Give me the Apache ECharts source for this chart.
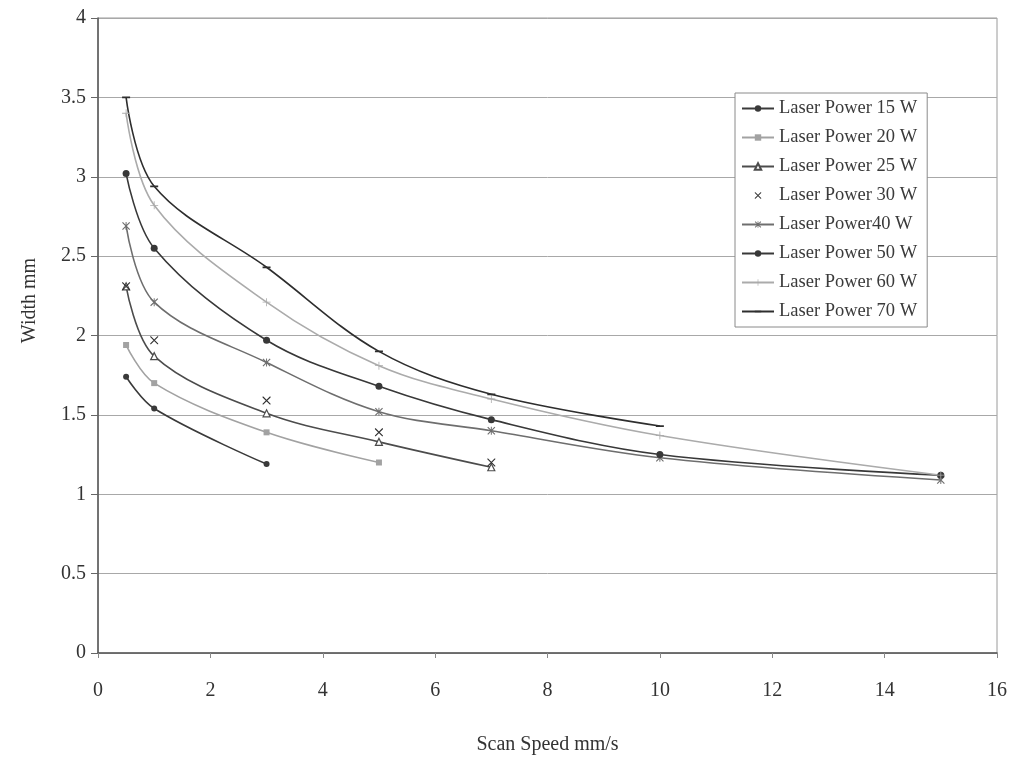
<!DOCTYPE html>
<html>
<head>
<meta charset="utf-8">
<script src="https://cdn.jsdelivr.net/npm/echarts@6/dist/echarts.min.js"></script>
<style>
  html, body { margin: 0; padding: 0; background: #fff; }
  #chart { width: 1018px; height: 761px; }
</style>
</head>
<body>
<div id="chart"></div>
<script>
// Scan speeds (mm/s) shared by every laser power series
const speeds = [0.5, 1, 3, 5, 7, 10, 15];

// Track width (mm) per laser power; each list follows speeds from the start
const w15 = [1.74, 1.54, 1.19];
const w20 = [1.94, 1.70, 1.39, 1.20];
const w25 = [2.31, 1.87, 1.51, 1.33, 1.17];
const w30 = [2.31, 1.97, 1.59, 1.39, 1.20];
const w40 = [2.69, 2.21, 1.83, 1.52, 1.40, 1.23, 1.09];
const w50 = [3.02, 2.55, 1.97, 1.68, 1.47, 1.25, 1.12];
const w60 = [3.40, 2.82, 2.21, 1.81, 1.60, 1.37, 1.12];
const w70 = [3.50, 2.94, 2.43, 1.90, 1.63, 1.43];

const names = [
  'Laser Power 15 W', 'Laser Power 20 W', 'Laser Power 25 W', 'Laser Power 30 W',
  'Laser Power40 W', 'Laser Power 50 W', 'Laser Power 60 W', 'Laser Power 70 W'
];

const xTicks = [0, 2, 4, 6, 8, 10, 12, 14, 16];
const yTicks = [0, 0.5, 1, 1.5, 2, 2.5, 3, 3.5, 4];

function pairs(vals) {
  return vals.map((v, i) => [speeds[i], v]);
}

// Marker shapes; tiny corner sub-paths keep each shape inside a square box
const crossPath = 'path://M0,0 L1,0 L10,9 L10,10 L9,10 L0,1 Z M10,0 L10,1 L1,10 L0,10 L0,9 L9,0 Z';
const starPath = 'path://M1,0 L5,4 L9,0 L10,1 L6,5 L10,9 L9,10 L5,6 L1,10 L0,9 L4,5 L0,1 Z M4.4,0 L5.6,0 L5.6,10 L4.4,10 Z';
const plusPath = 'path://M4.5,0 L5.5,0 L5.5,4.5 L10,4.5 L10,5.5 L5.5,5.5 L5.5,10 L4.5,10 L4.5,5.5 L0,5.5 L0,4.5 L4.5,4.5 Z';
const dashPath = 'path://M0,0 L0.01,0 L0.01,0.01 Z M0,4 L10,4 L10,6.2 L0,6.2 Z M10,10 L9.99,10 L9.99,9.99 Z';

function lineSeries(name, vals, color, symbol, size, extra) {
  return Object.assign({
    name: name,
    type: 'line',
    data: pairs(vals),
    smooth: 0.35,
    symbol: symbol,
    symbolSize: size,
    showAllSymbol: true,
    lineStyle: { color: color, width: 1.6 },
    itemStyle: { color: color },
    emphasis: { disabled: true },
    z: 3
  }, extra || {});
}

const series = [
  lineSeries(names[0], w15, '#3a3a3a', 'circle', 6),
  lineSeries(names[1], w20, '#a2a2a2', 'rect', 6),
  lineSeries(names[2], w25, '#4c4c4c', 'triangle', 7, {
    itemStyle: { color: '#ffffff', borderColor: '#4c4c4c', borderWidth: 1.2 }
  }),
  lineSeries(names[3], w30, '#2f2f2f', crossPath, 8, {
    lineStyle: { width: 0, opacity: 0 }
  }),
  lineSeries(names[4], w40, '#6e6e6e', starPath, 8),
  lineSeries(names[5], w50, '#383838', 'circle', 7),
  lineSeries(names[6], w60, '#ababab', plusPath, 8),
  lineSeries(names[7], w70, '#2e2e2e', dashPath, 8)
];

const serif = '"Liberation Serif", "DejaVu Serif", serif';

const option = {
  backgroundColor: '#ffffff',
  animation: false,
  textStyle: { fontFamily: serif },
  grid: {
    left: 98, right: 21, top: 18, bottom: 108,
    show: true, borderColor: '#9a9a9a', borderWidth: 1, backgroundColor: 'transparent'
  },
  legend: {
    orient: 'vertical',
    left: 735,
    top: 93,
    padding: [6, 10, 6, 6],
    itemGap: 10,
    itemWidth: 32,
    itemHeight: 8,
    backgroundColor: '#ffffff',
    borderColor: '#8a8a8a',
    borderWidth: 1,
    data: names,
    textStyle: { fontFamily: serif, fontSize: 18.5, lineHeight: 18, color: '#3a3a3a' }
  },
  xAxis: {
    type: 'value',
    min: xTicks[0],
    max: xTicks[xTicks.length - 1],
    interval: 2,
    name: 'Scan Speed mm/s',
    nameLocation: 'middle',
    nameGap: 82,
    nameTextStyle: { fontFamily: serif, fontSize: 20, color: '#333' },
    axisLine: { lineStyle: { color: '#555', width: 1.5 } },
    axisTick: { show: true, length: 5, inside: false, lineStyle: { color: '#888' } },
    axisLabel: { fontFamily: serif, fontSize: 20, color: '#333', margin: 28 },
    splitLine: { show: false }
  },
  yAxis: {
    type: 'value',
    min: yTicks[0],
    max: yTicks[yTicks.length - 1],
    interval: 0.5,
    name: 'Width mm',
    nameLocation: 'middle',
    nameGap: 58,
    nameTextStyle: { fontFamily: serif, fontSize: 20, color: '#333', padding: [0, 0, 0, 70] },
    axisLine: { show: true, lineStyle: { color: '#555', width: 1.5 } },
    axisTick: { show: true, length: 7, lineStyle: { color: '#666' } },
    axisLabel: { fontFamily: serif, fontSize: 20, color: '#333', margin: 12 },
    splitLine: { show: true, lineStyle: { color: '#a8a8a8', width: 1 } }
  },
  series: series
};

const chart = echarts.init(document.getElementById('chart'), null, { renderer: 'canvas' });
chart.setOption(option);
</script>
</body>
</html>
